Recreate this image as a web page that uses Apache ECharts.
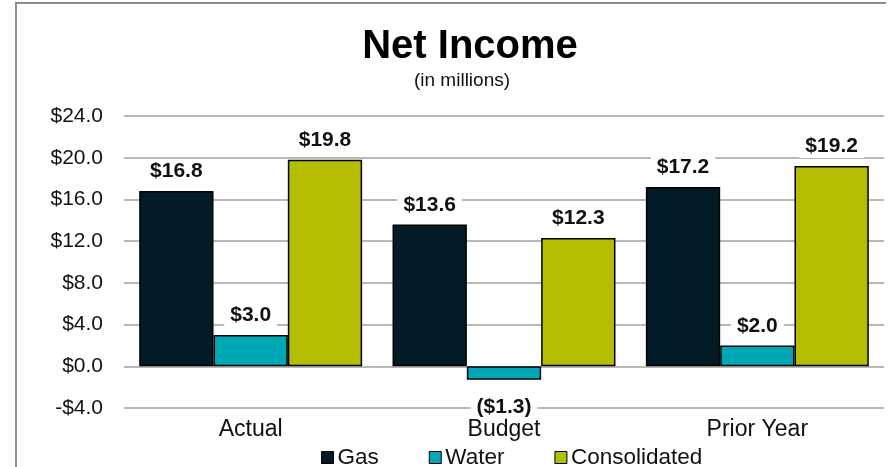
<!DOCTYPE html>
<html>
<head>
<meta charset="utf-8">
<script src="https://cdn.jsdelivr.net/npm/echarts@6/dist/echarts.min.js"></script>
<style>
  html, body { margin: 0; padding: 0; background: #fff; }
  #frame {
    position: absolute; left: 15px; top: 2px; width: 869px; height: 470px;
    border-left: 2px solid #8c8c8c; border-top: 2px solid #8c8c8c;
  }
  #chart { position: absolute; left: 0; top: 0; width: 892px; height: 467px; }
</style>
</head>
<body>
<div id="frame"></div>
<div id="chart"></div>
<script>
const categories = ["Actual", "Budget", "Prior Year"];
const gas = [16.8, 13.6, 17.2];
const water = [3.0, -1.3, 2.0];
const consolidated = [19.8, 12.3, 19.2];
const seriesNames = ["Gas", "Water", "Consolidated"];
const colors = ["#021b26", "#00a7b5", "#b5bd00"];

const FONT = "Liberation Sans, Arial, sans-serif";

const money = (v) => (v < 0 ? "($" + Math.abs(v).toFixed(1) + ")" : "$" + v.toFixed(1));
const tickMoney = (v) => (v < 0 ? "-$" + Math.abs(v).toFixed(1) : "$" + v.toFixed(1));

// negative bars get their label underneath
const toData = (arr) =>
  arr.map((v) => (v < 0 ? { value: v, label: { position: "bottom", distance: 16 } } : v));

const chart = echarts.init(document.getElementById("chart"));

const makeSeries = (name, arr, color) => ({
  name: name,
  type: "bar",
  data: toData(arr),
  barGap: "0%",
  barCategoryGap: "12%",
  itemStyle: { color: color, borderColor: "#000", borderWidth: 1.5 },
  label: {
    show: true,
    position: "top",
    distance: 8,
    formatter: (p) => money(p.value),
    fontFamily: FONT,
    fontWeight: "bold",
    fontSize: 21,
    color: "#111",
    backgroundColor: "#fff",
    padding: [1, 6],
  },
});

chart.setOption({
  animation: false,
  title: [
    {
      text: "Net Income",
      left: 465,
      textAlign: "center",
      top: 22,
      textStyle: { fontFamily: FONT, fontWeight: "bold", fontSize: 40, color: "#000" },
    },
    {
      text: "(in millions)",
      left: 457,
      textAlign: "center",
      top: 66,
      textStyle: { fontFamily: FONT, fontWeight: "normal", fontSize: 19, color: "#111" },
    },
  ],
  legend: {
    data: seriesNames,
    top: 441,
    left: 316,
    icon: "rect",
    itemWidth: 12,
    itemHeight: 12,
    itemGap: 50,
    itemStyle: { borderColor: "#000", borderWidth: 1 },
    textStyle: { fontFamily: FONT, fontSize: 22.5, color: "#111", padding: [0, 0, 0, -1] },
  },
  grid: { left: 124, right: 8, top: 116, bottom: 59 },
  xAxis: {
    type: "category",
    data: categories,
    axisLine: { show: false },
    axisTick: { show: false },
    axisLabel: {
      margin: 10,
      fontFamily: FONT,
      fontSize: 23,
      color: "#111",
    },
  },
  yAxis: {
    type: "value",
    min: -4,
    max: 24,
    interval: 4,
    axisLine: { show: false },
    axisTick: { show: false },
    axisLabel: {
      margin: 21,
      formatter: tickMoney,
      fontFamily: FONT,
      fontSize: 21,
      color: "#111",
    },
    splitLine: { lineStyle: { color: "#a0a0a0", width: 1.5 } },
  },
  series: [
    makeSeries(seriesNames[0], gas, colors[0]),
    makeSeries(seriesNames[1], water, colors[1]),
    makeSeries(seriesNames[2], consolidated, colors[2]),
  ],
});
</script>
</body>
</html>
